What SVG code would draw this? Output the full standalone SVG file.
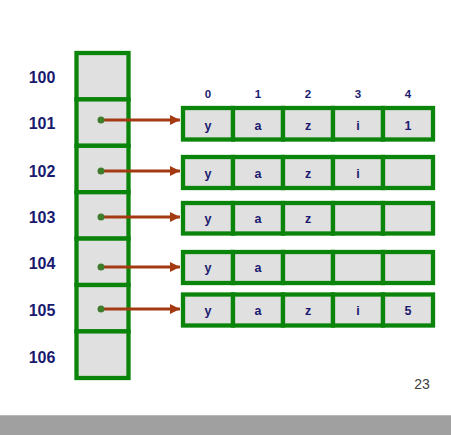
<svg xmlns="http://www.w3.org/2000/svg" width="451" height="435" viewBox="0 0 451 435">
<defs>
<style>
.cell{fill:#e0e0e0;stroke:#0a840a;stroke-width:4.3}
.lbl{font-family:"Liberation Sans",Arial,sans-serif;font-weight:bold;font-size:16px;fill:#1a1a70;text-anchor:middle}
.idx{font-family:"Liberation Sans",Arial,sans-serif;font-weight:bold;font-size:11.5px;fill:#1a1a70;text-anchor:middle}
.val{font-family:"Liberation Sans",Arial,sans-serif;font-weight:bold;font-size:12.5px;fill:#1a1a70;text-anchor:middle}
.ptr{stroke:#a33a12;stroke-width:3;fill:none}
.head{fill:#a33a12}
.dot{fill:#3f7d2c}
.page{font-family:"Liberation Sans",Arial,sans-serif;font-size:14px;fill:#404040;text-anchor:middle}
</style>
<marker id="ah" markerWidth="10" markerHeight="10" refX="10" refY="5" orient="auto" markerUnits="userSpaceOnUse">
<path d="M0,0 L10,5 L0,10 Z" class="head"/>
</marker>
</defs>
<rect x="0" y="0" width="451" height="435" fill="#ffffff"/>

<g id="memory">
<g id="m100"><rect class="cell" x="76.5" y="53" width="52" height="46.4"/><text class="lbl" x="42" y="83">100</text></g>
<g id="m101"><rect class="cell" x="76.5" y="99.4" width="52" height="46.4"/><text class="lbl" x="42" y="129">101</text></g>
<g id="m102"><rect class="cell" x="76.5" y="145.8" width="52" height="46.4"/><text class="lbl" x="42" y="176.5">102</text></g>
<g id="m103"><rect class="cell" x="76.5" y="192.2" width="52" height="46.4"/><text class="lbl" x="42" y="222.5">103</text></g>
<g id="m104"><rect class="cell" x="76.5" y="238.6" width="52" height="46.4"/><text class="lbl" x="42" y="269.3">104</text></g>
<g id="m105"><rect class="cell" x="76.5" y="285" width="52" height="46.4"/><text class="lbl" x="42" y="316">105</text></g>
<g id="m106"><rect class="cell" x="76.5" y="331.4" width="52" height="46.6"/><text class="lbl" x="42" y="362.5">106</text></g>
</g>

<g id="indices">
<text class="idx" x="208" y="97.5">0</text>
<text class="idx" x="258" y="97.5">1</text>
<text class="idx" x="308" y="97.5">2</text>
<text class="idx" x="358" y="97.5">3</text>
<text class="idx" x="408" y="97.5">4</text>
</g>

<g id="array1">
<rect class="cell" x="183" y="108" width="50" height="31.5"/><rect class="cell" x="233" y="108" width="50" height="31.5"/><rect class="cell" x="283" y="108" width="50" height="31.5"/><rect class="cell" x="333" y="108" width="50" height="31.5"/><rect class="cell" x="383" y="108" width="50" height="31.5"/>
<text class="val" x="208" y="129.5">y</text><text class="val" x="258" y="129.5">a</text><text class="val" x="308" y="129.5">z</text><text class="val" x="358" y="129.5">i</text><text class="val" x="408" y="129.5">1</text>
</g>
<g id="array2">
<rect class="cell" x="183" y="157" width="50" height="31"/><rect class="cell" x="233" y="157" width="50" height="31"/><rect class="cell" x="283" y="157" width="50" height="31"/><rect class="cell" x="333" y="157" width="50" height="31"/><rect class="cell" x="383" y="157" width="50" height="31"/>
<text class="val" x="208" y="177.5">y</text><text class="val" x="258" y="177.5">a</text><text class="val" x="308" y="177.5">z</text><text class="val" x="358" y="177.5">i</text>
</g>
<g id="array3">
<rect class="cell" x="183" y="203" width="50" height="30.5"/><rect class="cell" x="233" y="203" width="50" height="30.5"/><rect class="cell" x="283" y="203" width="50" height="30.5"/><rect class="cell" x="333" y="203" width="50" height="30.5"/><rect class="cell" x="383" y="203" width="50" height="30.5"/>
<text class="val" x="208" y="223">y</text><text class="val" x="258" y="223">a</text><text class="val" x="308" y="223">z</text>
</g>
<g id="array4">
<rect class="cell" x="183" y="252" width="50" height="31"/><rect class="cell" x="233" y="252" width="50" height="31"/><rect class="cell" x="283" y="252" width="50" height="31"/><rect class="cell" x="333" y="252" width="50" height="31"/><rect class="cell" x="383" y="252" width="50" height="31"/>
<text class="val" x="208" y="272">y</text><text class="val" x="258" y="272">a</text>
</g>
<g id="array5">
<rect class="cell" x="183" y="294.5" width="50" height="31"/><rect class="cell" x="233" y="294.5" width="50" height="31"/><rect class="cell" x="283" y="294.5" width="50" height="31"/><rect class="cell" x="333" y="294.5" width="50" height="31"/><rect class="cell" x="383" y="294.5" width="50" height="31"/>
<text class="val" x="208" y="315">y</text><text class="val" x="258" y="315">a</text><text class="val" x="308" y="315">z</text><text class="val" x="358" y="315">i</text><text class="val" x="408" y="315">5</text>
</g>

<g id="connectors">
<line class="ptr" x1="101" y1="120" x2="180" y2="120" marker-end="url(#ah)"/>
<line class="ptr" x1="101" y1="171" x2="180" y2="171" marker-end="url(#ah)"/>
<line class="ptr" x1="101" y1="217" x2="180" y2="217" marker-end="url(#ah)"/>
<line class="ptr" x1="101" y1="267" x2="180" y2="267" marker-end="url(#ah)"/>
<line class="ptr" x1="101" y1="309" x2="180" y2="309" marker-end="url(#ah)"/>
<circle class="dot" cx="101" cy="120" r="3.5"/>
<circle class="dot" cx="101" cy="171" r="3.5"/>
<circle class="dot" cx="101" cy="217" r="3.5"/>
<circle class="dot" cx="101" cy="267" r="3.5"/>
<circle class="dot" cx="101" cy="309" r="3.5"/>
</g>

<text class="page" x="422" y="388.5">23</text>
<rect x="0" y="415" width="451" height="20" fill="#a0a0a0"/>
<rect x="0" y="415" width="451" height="1" fill="#b8b8b8"/>
</svg>
